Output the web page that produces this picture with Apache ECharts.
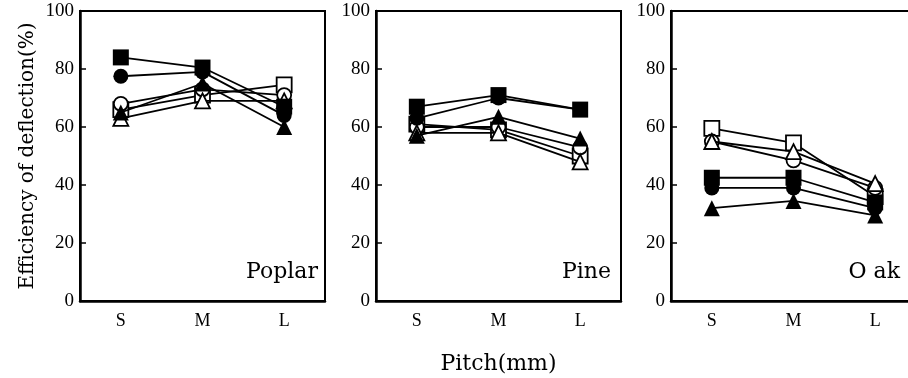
<!DOCTYPE html>
<html><head><meta charset="utf-8">
<script src="https://cdn.jsdelivr.net/npm/echarts@6/dist/echarts.min.js"></script>
<style>html,body{margin:0;padding:0;background:#fff}#c{width:908px;height:378px}</style>
</head><body><div id="c"></div>
<script>
const categories = ['S', 'M', 'L'];
const panels = ['Poplar', 'Pine', 'O ak'];
const yTicks = [0, 20, 40, 60, 80, 100];

// Poplar
const poplarFilledSquare   = [84, 80.5, 67];
const poplarFilledCircle   = [77.5, 79, 64];
const poplarFilledTriangle = [65, 75, 60];
const poplarOpenSquare     = [66, 71, 74.5];
const poplarOpenCircle     = [68, 73, 71];
const poplarOpenTriangle   = [63, 69, 69];
// Pine
const pineFilledSquare     = [67, 71, 66];
const pineFilledCircle     = [63, 70, 66];
const pineFilledTriangle   = [57, 63.5, 56];
const pineOpenSquare       = [61, 59, 50];
const pineOpenCircle       = [60, 60, 53];
const pineOpenTriangle     = [58, 58, 48];
// Oak
const oakFilledSquare      = [42.5, 42.5, 34];
const oakFilledCircle      = [39, 39, 32];
const oakFilledTriangle    = [32, 34.5, 29.5];
const oakOpenSquare        = [59.5, 54.5, 36];
const oakOpenCircle        = [55, 48.5, 39];
const oakOpenTriangle      = [55, 51.5, 40.5];

const panelData = [
  [poplarOpenSquare, poplarOpenCircle, poplarOpenTriangle, poplarFilledTriangle, poplarFilledCircle, poplarFilledSquare],
  [pineOpenSquare, pineOpenCircle, pineOpenTriangle, pineFilledTriangle, pineFilledCircle, pineFilledSquare],
  [oakOpenSquare, oakOpenCircle, oakOpenTriangle, oakFilledTriangle, oakFilledCircle, oakFilledSquare]
];
const styles = [
  {symbol: 'rect', filled: false, size: 15},
  {symbol: 'circle', filled: false, size: 14},
  {symbol: 'triangle', filled: false, size: 15},
  {symbol: 'triangle', filled: true, size: 16},
  {symbol: 'circle', filled: true, size: 15},
  {symbol: 'rect', filled: true, size: 16}
];

const gridLefts = [80, 376, 671];
const serif = 'Liberation Serif';
const grids = [], xAxes = [], yAxes = [], series = [], graphics = [];
const labelRight = [318, 611, 900];

for (let p = 0; p < 3; p++) {
  grids.push({left: gridLefts[p], top: 11, width: 245, height: 290, show: true,
    outerBoundsMode: 'none', containLabel: false,
    borderColor: '#000', borderWidth: 2, backgroundColor: 'transparent'});
  xAxes.push({
    gridIndex: p, type: 'category', data: categories, boundaryGap: true,
    axisLine: {lineStyle: {color: '#000', width: 2.5}},
    axisTick: {inside: true, alignWithLabel: true, length: 5, lineStyle: {color: '#000', width: 1.5}},
    axisLabel: {color: '#000', fontFamily: serif, fontSize: 18, margin: 11},
    name: p === 1 ? 'Pitch(mm)' : '', nameLocation: 'middle', nameGap: 52,
    nameTextStyle: {color: '#000', fontFamily: 'DejaVu Serif', fontSize: 22}
  });
  yAxes.push({
    gridIndex: p, type: 'value', min: yTicks[0], max: yTicks[yTicks.length - 1], interval: 20,
    axisLine: {show: true, lineStyle: {color: '#000', width: 2.5}},
    axisTick: {show: true, inside: true, length: 6, lineStyle: {color: '#000', width: 1.5}},
    axisLabel: {color: '#000', fontFamily: serif, fontSize: 19, margin: 6},
    splitLine: {show: false},
    name: p === 0 ? 'Efficiency of deflection(%)' : '', nameLocation: 'middle', nameGap: 42,
    nameRotate: 90,
    nameTextStyle: {color: '#000', fontFamily: 'DejaVu Serif', fontSize: 20}
  });
  panelData[p].forEach((vals, i) => {
    const st = styles[i];
    series.push({
      type: 'line', xAxisIndex: p, yAxisIndex: p, data: vals,
      symbol: st.symbol, symbolSize: st.size, showSymbol: true,
      lineStyle: {color: '#000', width: 1.8},
      itemStyle: {color: st.filled ? '#000' : '#fff', borderColor: '#000', borderWidth: st.filled ? 0 : 1.8, opacity: 1},
      z: 2 + i, animation: false
    });
  });
  graphics.push({type: 'text', x: labelRight[p], y: 272,
    style: {text: panels[p], fill: '#000', font: '22px "DejaVu Serif"', textAlign: 'right', textVerticalAlign: 'middle'}});
}

const chart = echarts.init(document.getElementById('c'), null, {renderer: 'canvas'});
chart.setOption({
  animation: false,
  grid: grids, xAxis: xAxes, yAxis: yAxes, series: series, graphic: graphics
});
</script></body></html>
